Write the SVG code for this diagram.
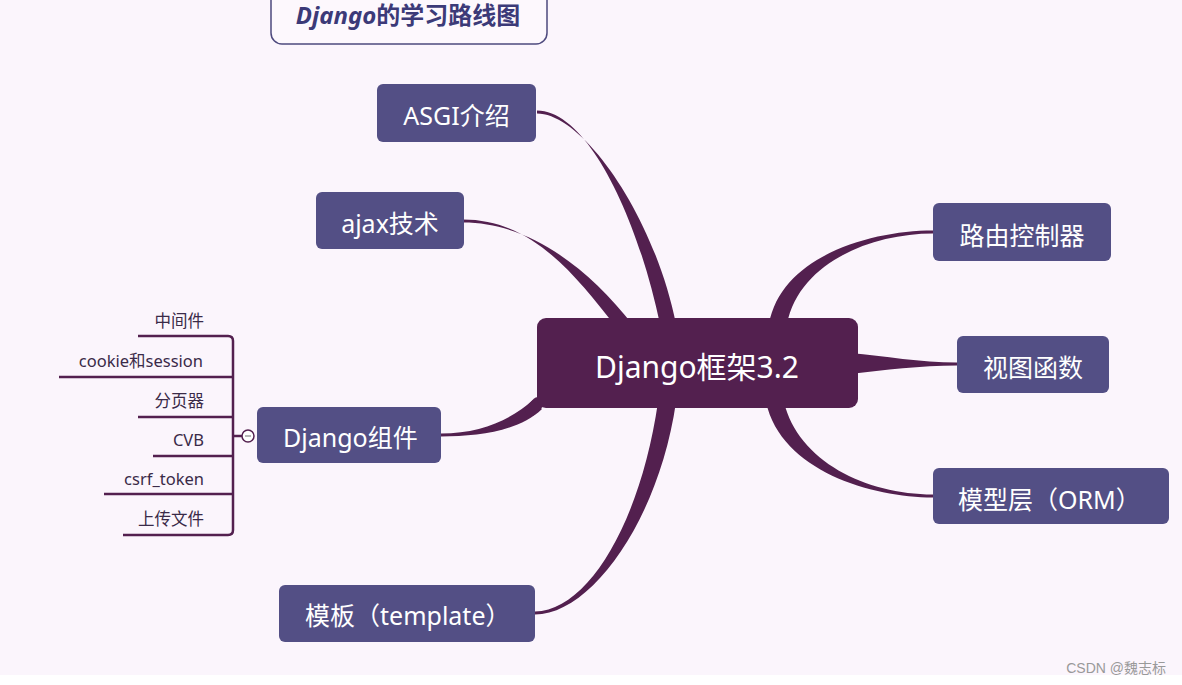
<svg xmlns="http://www.w3.org/2000/svg" width="1182" height="685" viewBox="0 0 1182 685">
<style>
.bg{fill:#FBF5FC}
.node{fill:#534F85}
.center{fill:#53204F}
.conn{fill:#53204F}
.t{font-family:"Noto Sans","Noto Sans CJK SC",sans-serif;fill:#FFFFFF;font-size:25px}
.ct{font-family:"Noto Sans","Noto Sans CJK SC",sans-serif;fill:#FFFFFF;font-size:30px}
.st{font-family:"Noto Sans","Noto Sans CJK SC",sans-serif;fill:#3A2A48;font-size:16.5px;text-anchor:end}
.br{fill:none;stroke:#53204F;stroke-width:2.5;stroke-linejoin:round}
</style>
<rect class="bg" x="0" y="0" width="1182" height="675"/>
<rect x="0" y="675" width="1182" height="10" fill="#FFFFFF"/>

<g id="title">
<rect x="271" y="-12" width="276" height="56" rx="11" fill="#FDF8FD" stroke="#4E4A7E" stroke-width="1.5"/>
<text x="408" y="24" text-anchor="middle" font-family="Noto Sans,Noto Sans CJK SC,sans-serif" font-size="24" font-weight="bold" fill="#3C3A78"><tspan font-style="italic">Django</tspan>的学习路线图</text>
</g>

<g id="connectors">
<path class="conn" d="M537,110.5 C587,110.5 637,215 660,324 L676,324 C654,215 583,113.5 537,113.5 Z"/>
<path class="conn" d="M463,219.5 C531,219.5 574,273 616,327 L633,325 C587,267 529,222.5 463,222.5 Z"/>
<path class="conn" d="M933,230.5 C869,230.5 781,257 769,324 L787,324 C799,263 871,233.5 933,233.5 Z"/>
<path class="conn" d="M957,362.5 C920,362.5 885,356 850,353 L850,374 C885,370 920,365.5 957,365.5 Z"/>
<path class="conn" d="M933,494.5 C866,494.5 798,461 784,402 L766,402 C781,471 872,497.5 933,497.5 Z"/>
<path class="conn" d="M441,433.5 C481,433.5 512,419 533,400 L542,409 C519,431 479,436.5 441,436.5 Z"/>
<line x1="531" y1="410" x2="538" y2="403" stroke="#53204F" stroke-width="12" stroke-linecap="round"/>
<path class="conn" d="M535,611.5 C589,610.5 641,520 658,402 L676,402 C659,520 591,614.5 535,614.5 Z"/>
<path class="br" d="M138,336 H228 Q233,336 233,341 V530 Q233,535 228,535 H123"/>
<path class="br" d="M59,377 H233"/>
<path class="br" d="M138,417 H233"/>
<path class="br" d="M153,456 H233"/>
<path class="br" d="M104,494 H233"/>
<path class="br" d="M233,436 H242"/>
</g>

<g id="collapse">
<circle cx="248" cy="436" r="6" fill="#FFFFFF" stroke="#53204F" stroke-width="1.5"/>
<line x1="245" y1="436" x2="251" y2="436" stroke="#888888" stroke-width="1.2"/>
</g>

<g id="center">
<rect class="center" x="537" y="318" width="321" height="90" rx="9"/>
<text class="ct" x="697" y="378" text-anchor="middle">Django框架3.2</text>
</g>

<g id="asgi">
<rect class="node" x="377" y="84" width="159" height="58" rx="6"/>
<text class="t" x="456.5" y="125" text-anchor="middle">ASGI介绍</text>
</g>

<g id="ajax">
<rect class="node" x="316" y="192" width="148" height="57" rx="6"/>
<text class="t" x="390" y="233" text-anchor="middle">ajax技术</text>
</g>

<g id="router">
<rect class="node" x="933" y="203" width="178" height="58" rx="6"/>
<text class="t" x="1022" y="245" text-anchor="middle">路由控制器</text>
</g>

<g id="view">
<rect class="node" x="957" y="336" width="152" height="57" rx="6"/>
<text class="t" x="1033" y="377" text-anchor="middle">视图函数</text>
</g>

<g id="model">
<rect class="node" x="933" y="468" width="236" height="56" rx="6"/>
<text class="t" x="958" y="509">模型层（ORM）</text>
</g>

<g id="components">
<rect class="node" x="257" y="407" width="184" height="56" rx="6"/>
<text class="t" x="283" y="447">Django组件</text>
</g>

<g id="template">
<rect class="node" x="279" y="585" width="256" height="57" rx="6"/>
<text class="t" x="305" y="625">模板（template）</text>
</g>

<g id="sub-items">
<text class="st" x="204" y="327">中间件</text>
<text class="st" x="203" y="367">cookie和session</text>
<text class="st" x="204" y="407">分页器</text>
<text class="st" x="204" y="446">CVB</text>
<text class="st" x="204" y="485">csrf_token</text>
<text class="st" x="204" y="525">上传文件</text>
</g>

<g id="watermark">
<text x="1166" y="673" text-anchor="end" font-family="Liberation Sans,Noto Sans CJK SC,sans-serif" font-size="14" fill="#999999">CSDN @魏志标</text>
</g>
</svg>
